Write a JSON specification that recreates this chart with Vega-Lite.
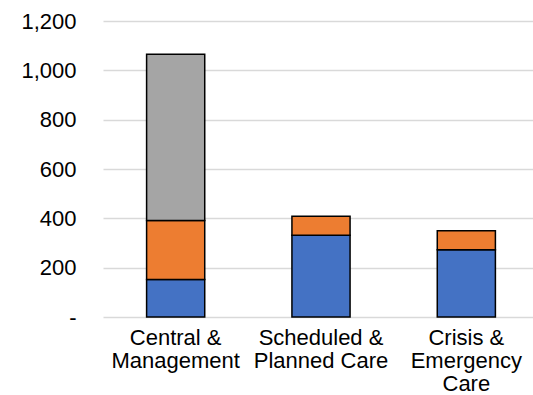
{
  "$schema": "https://vega.github.io/schema/vega-lite/v6.json",
  "width": 430,
  "height": 296,
  "autosize": {"type": "none"},
  "padding": {"left": 103, "top": 21, "right": 0, "bottom": 78},
  "background": "white",
  "config": {
    "view": {"stroke": null},
    "font": "Liberation Sans"
  },
  "data": {
    "values": [
      {"area": "Central & Management", "series": "Series 1", "value": 152, "rank": 1},
      {"area": "Central & Management", "series": "Series 2", "value": 239, "rank": 2},
      {"area": "Central & Management", "series": "Series 3", "value": 674, "rank": 3},
      {"area": "Scheduled & Planned Care", "series": "Series 1", "value": 331, "rank": 1},
      {"area": "Scheduled & Planned Care", "series": "Series 2", "value": 77, "rank": 2},
      {"area": "Crisis & Emergency Care", "series": "Series 1", "value": 273, "rank": 1},
      {"area": "Crisis & Emergency Care", "series": "Series 2", "value": 77, "rank": 2}
    ]
  },
  "mark": {"type": "bar", "stroke": "#000000", "strokeWidth": 1.5},
  "encoding": {
    "x": {
      "field": "area",
      "type": "nominal",
      "sort": ["Central & Management", "Scheduled & Planned Care", "Crisis & Emergency Care"],
      "scale": {"paddingInner": 0.6, "paddingOuter": 0.3, "range": [0, 436]},
      "axis": {
        "title": null,
        "domain": false,
        "ticks": false,
        "labelAngle": 0,
        "labelFont": "Liberation Sans",
        "labelFontSize": 22,
        "labelColor": "#000000",
        "labelLineHeight": 23,
        "labelPadding": 10,
        "labelExpr": "datum.value == 'Central & Management' ? ['Central &', 'Management'] : datum.value == 'Scheduled & Planned Care' ? ['Scheduled &', 'Planned Care'] : ['Crisis &', 'Emergency', 'Care']"
      }
    },
    "y": {
      "field": "value",
      "type": "quantitative",
      "stack": "zero",
      "scale": {"domain": [0, 1200], "nice": false},
      "axis": {
        "title": null,
        "values": [0, 200, 400, 600, 800, 1000, 1200],
        "domain": false,
        "ticks": false,
        "grid": true,
        "gridColor": "#d9d9d9",
        "gridWidth": 1.3,
        "labelFont": "Liberation Sans",
        "labelFontSize": 22,
        "labelColor": "#000000",
        "labelPadding": 27,
        "labelExpr": "datum.value == 0 ? '-' : format(datum.value, ',')"
      }
    },
    "color": {
      "field": "series",
      "type": "nominal",
      "scale": {"domain": ["Series 1", "Series 2", "Series 3"], "range": ["#4472C4", "#ED7D31", "#A5A5A5"]},
      "legend": null
    },
    "order": {"field": "rank", "type": "quantitative"}
  }
}
